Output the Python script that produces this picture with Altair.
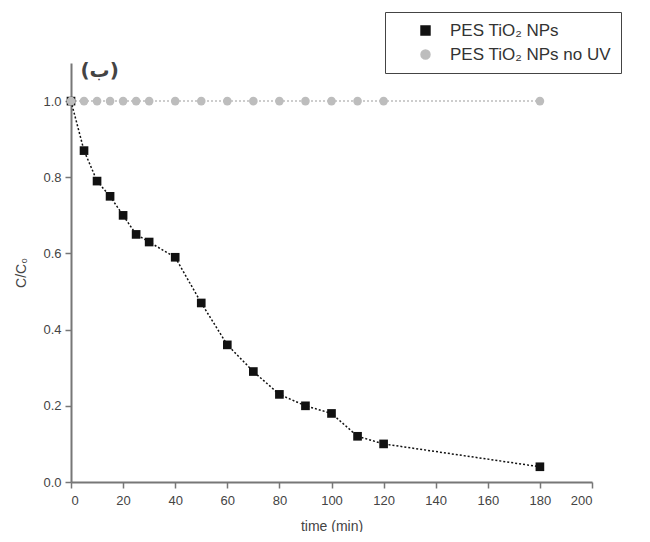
import altair as alt
import pandas as pd

time_uv = [0, 5, 10, 15, 20, 25, 30, 40, 50, 60, 70, 80, 90, 100, 110, 120, 180]
conc_uv = [1.0, 0.87, 0.79, 0.75, 0.70, 0.65, 0.63, 0.59, 0.47, 0.36, 0.29, 0.23, 0.20, 0.18, 0.12, 0.10, 0.04]
time_nouv = [0, 5, 10, 15, 20, 25, 30, 40, 50, 60, 70, 80, 90, 100, 110, 120, 180]
conc_nouv = [1.0] * len(time_nouv)
series_names = ["PES TiO₂ NPs", "PES TiO₂ NPs no UV"]
x_ticks = list(range(0, 201, 10))
y_ticks = [round(v * 0.1, 1) for v in range(0, 12)]
panel_label = "(ب)"

df = pd.DataFrame({
    "time": time_uv + time_nouv,
    "conc": conc_uv + conc_nouv,
    "series": [series_names[0]] * len(time_uv) + [series_names[1]] * len(time_nouv),
})

color_scale = alt.Scale(domain=series_names, range=["#111111", "#bdbdbd"])
shape_scale = alt.Scale(domain=series_names, range=["square", "circle"])

legend = alt.Legend(title=None, orient="none", legendX=314, legendY=-51,
                    labelFontSize=17, labelFont="Liberation Sans", labelColor="#333",
                    strokeColor="#444", padding=10, symbolSize=80, symbolOffset=22,
                    labelOffset=16, labelLimit=300, rowPadding=6)

x_enc = alt.X("time:Q", scale=alt.Scale(domain=[0, 200], nice=False, zero=False),
              axis=alt.Axis(values=x_ticks, title="time (min)",
                            labelExpr="datum.value % 20 === 0 ? datum.label : ''",
                            tickSize={"condition": {"test": "datum.value % 20 === 0", "value": 6}, "value": 3},
                            grid=False, domainColor="#777", domainWidth=2, tickColor="#777", tickWidth=1.5,
                            labelColor="#444", labelFontSize=13, labelPadding=6,
                            titleFontSize=14, titleColor="#444", titleFontWeight="normal", titlePadding=12,
                            labelFont="Liberation Sans", titleFont="Liberation Sans"))
y_enc = alt.Y("conc:Q", scale=alt.Scale(domain=[0, 1.1], nice=False),
              axis=alt.Axis(values=y_ticks, title="C/C₀", format=".1f",
                            labelExpr="round(datum.value*10) % 2 === 0 ? datum.label : ''",
                            tickSize={"condition": {"test": "round(datum.value*10) % 2 === 0", "value": 6}, "value": 3},
                            grid=False, domainColor="#777", domainWidth=2, tickColor="#777", tickWidth=1.5,
                            labelColor="#444", labelFontSize=13, labelPadding=4,
                            titleFontSize=14, titleColor="#444", titleFontWeight="normal", titlePadding=14,
                            labelFont="Liberation Sans", titleFont="Liberation Sans"))

lines = alt.Chart(df).mark_line(strokeDash=[2, 2], strokeWidth=1.5).encode(
    x=x_enc, y=y_enc,
    color=alt.Color("series:N", scale=color_scale, legend=legend),
    detail="series:N",
)

points = alt.Chart(df).mark_point(filled=True, size=75, opacity=1).encode(
    x=x_enc, y=y_enc,
    color=alt.Color("series:N", scale=color_scale, legend=legend),
    shape=alt.Shape("series:N", scale=shape_scale, legend=legend),
)

label_df = pd.DataFrame({"time": [11], "conc": [1.08], "txt": [panel_label]})
label = alt.Chart(label_df).mark_text(fontSize=20, font="DejaVu Sans", fontWeight="bold",
                                      color="#444", align="center").encode(
    x="time:Q", y="conc:Q", text="txt:N")

chart = alt.layer(lines, points, label).properties(
    width=521, height=419,
    autosize=alt.AutoSizeParams(type="none"),
    padding={"left": 63, "top": 55, "right": 48, "bottom": 50},
).configure_view(stroke=None)

chart.save("out.html", embed_options={"renderer": "svg", "actions": False})
